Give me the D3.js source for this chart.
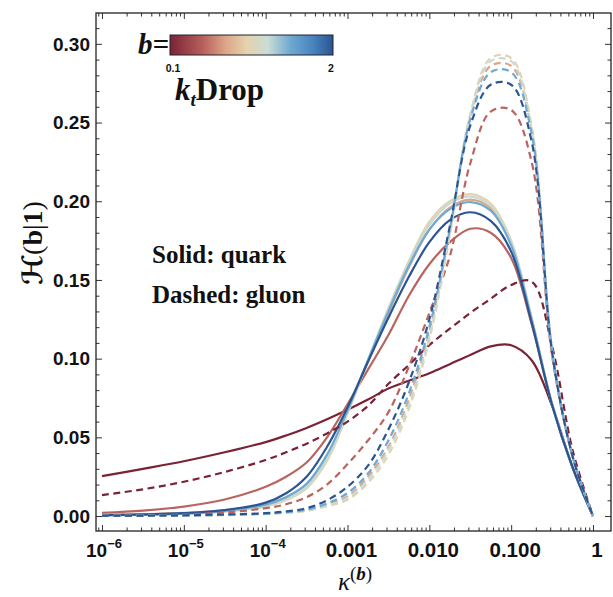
<!DOCTYPE html>
<html><head><meta charset="utf-8">
<script src="https://cdn.jsdelivr.net/npm/d3@7"></script>
<style>body{margin:0;background:#fff} svg{display:block}</style>
</head><body><svg id="c" width="613" height="597"></svg>
<script>
// ---------- DATA ----------
const log10Kappa = [-6,-5.5,-5,-4.5,-4,-3.75,-3.5,-3.25,-3,-2.75,-2.5,-2.25,-2,-1.75,-1.5,-1.25,-1,-0.75,-0.5,-0.25,0];
const bValues = [0.1, 0.5, 0.75, 1.0, 1.25, 1.5, 2.0];

// quark (solid)
const quark_b010 = [0.0254,0.0300,0.0348,0.0405,0.0470,0.0512,0.0560,0.0615,0.0675,0.0740,0.0810,0.0860,0.0907,0.0965,0.1023,0.1078,0.1085,0.0990,0.0700,0.0310,0];
const quark_b050 = [0.0020,0.0035,0.0060,0.0105,0.0186,0.0250,0.0340,0.0500,0.0710,0.0930,0.1150,0.1400,0.1600,0.1740,0.1825,0.1800,0.1640,0.1220,0.0710,0.0310,0];
const quark_b075 = [0.0008,0.0012,0.0020,0.0038,0.0075,0.0120,0.0200,0.0380,0.0670,0.0980,0.1290,0.1580,0.1820,0.1960,0.2010,0.1955,0.1730,0.1250,0.0710,0.0310,0];
const quark_b100 = [0.0005,0.0008,0.0014,0.0028,0.0060,0.0100,0.0175,0.0350,0.0650,0.0990,0.1320,0.1620,0.1870,0.2000,0.2045,0.1985,0.1750,0.1260,0.0710,0.0310,0];
const quark_b125 = [0.0005,0.0008,0.0015,0.0030,0.0065,0.0108,0.0185,0.0365,0.0660,0.0990,0.1310,0.1610,0.1850,0.1985,0.2030,0.1970,0.1740,0.1255,0.0710,0.0310,0];
const quark_b150 = [0.0005,0.0009,0.0016,0.0033,0.0072,0.0120,0.0205,0.0390,0.0670,0.0990,0.1300,0.1590,0.1820,0.1950,0.1995,0.1940,0.1720,0.1250,0.0710,0.0310,0];
const quark_b200 = [0.0006,0.0010,0.0018,0.0038,0.0085,0.0145,0.0250,0.0440,0.0690,0.0980,0.1260,0.1520,0.1740,0.1880,0.1930,0.1875,0.1680,0.1230,0.0705,0.0310,0];

// gluon (dashed)
const gluon_b010 = [0.0133,0.0170,0.0218,0.0280,0.0356,0.0405,0.0460,0.0525,0.0600,0.0700,0.0840,0.0960,0.1086,0.1190,0.1290,0.1380,0.1468,0.1490,0.1080,0.0420,0];
const gluon_b050 = [0.0002,0.0005,0.0010,0.0022,0.0050,0.0075,0.0120,0.0200,0.0330,0.0480,0.0660,0.0950,0.1290,0.1650,0.2240,0.2570,0.2580,0.2250,0.1020,0.0380,0];
const gluon_b075 = [0.0001,0.0002,0.0004,0.0008,0.0016,0.0025,0.0040,0.0075,0.0125,0.0250,0.0440,0.0740,0.1170,0.1810,0.2530,0.2860,0.2860,0.2450,0.1050,0.0380,0];
const gluon_b100 = [0.0001,0.0001,0.0003,0.0006,0.0013,0.0020,0.0033,0.0063,0.0104,0.0210,0.0390,0.0680,0.1120,0.1780,0.2550,0.2910,0.2910,0.2480,0.1060,0.0380,0];
const gluon_b125 = [0.0001,0.0002,0.0003,0.0007,0.0014,0.0022,0.0035,0.0068,0.0115,0.0230,0.0420,0.0710,0.1140,0.1800,0.2550,0.2890,0.2890,0.2460,0.1055,0.0380,0];
const gluon_b150 = [0.0001,0.0002,0.0003,0.0008,0.0016,0.0025,0.0040,0.0080,0.0146,0.0270,0.0480,0.0780,0.1200,0.1820,0.2520,0.2820,0.2820,0.2430,0.1050,0.0380,0];
const gluon_b200 = [0.0002,0.0003,0.0005,0.0010,0.0018,0.0030,0.0050,0.0100,0.0186,0.0320,0.0550,0.0850,0.1250,0.1840,0.2480,0.2740,0.2740,0.2380,0.1040,0.0380,0];

const quarkSeries = [quark_b010, quark_b050, quark_b075, quark_b100, quark_b125, quark_b150, quark_b200];
const gluonSeries = [gluon_b010, gluon_b050, gluon_b075, gluon_b100, gluon_b125, gluon_b150, gluon_b200];

const xMajorExp = [-6,-5,-4,-3,-2,-1,0];
const xTickLabels = ["10|−6","10|−5","10|−4","0.001","0.010","0.100","1"];
const yMajor = [0,0.05,0.10,0.15,0.20,0.25,0.30];
const yTickLabels = ["0.00","0.05","0.10","0.15","0.20","0.25","0.30"];
const bRange = [0.1, 2];

// colour map (RedBlueTones-like)
const cmapT = [0, 0.2, 0.34, 0.47, 0.6, 0.74, 0.87, 1];
const cmapC = ["#7a2335","#b6605c","#dca586","#e4d3ae","#c9ddd6","#6ea8d1","#4a86bf","#2b5592"];

// ---------- LAYOUT ----------
const L = 96, R = 611, T = 13, B = 531;
const svg = d3.select("#c");
const x = d3.scaleLog().domain([Math.pow(10,-6.0733), Math.pow(10,0.22)]).range([L,R]);
const y = d3.scaleLinear().domain([-0.0095, 0.3196]).range([B,T]);
const cmap = d3.scaleLinear().domain(cmapT).range(cmapC).interpolate(d3.interpolateRgb);
const colorOf = b => cmap((b - bRange[0])/(bRange[1]-bRange[0]));

const kappa = log10Kappa.map(e => Math.pow(10,e));

svg.append("defs").append("clipPath").attr("id","pc")
  .append("rect").attr("x",L).attr("y",T).attr("width",R-L).attr("height",B-T);

// ---------- CURVES ----------
const line = d3.line()
  .x((d,i) => x(kappa[i]))
  .y(d => y(d))
  .curve(d3.curveCatmullRom.alpha(0.5));

const g = svg.append("g").attr("clip-path","url(#pc)");
quarkSeries.forEach((s,i) => {
  g.append("path").attr("d", line(s)).attr("fill","none")
   .attr("stroke", colorOf(bValues[i])).attr("stroke-width",2.2);
});
gluonSeries.forEach((s,i) => {
  g.append("path").attr("d", line(s)).attr("fill","none")
   .attr("stroke", colorOf(bValues[i])).attr("stroke-width",2.2)
   .attr("stroke-dasharray","7,4.5");
});

// ---------- AXES / FRAME ----------
const axisColor = "#333";
const xMajor = xMajorExp.map(e => Math.pow(10,e));
const xMinor = [];
for (let e = -7; e <= 0; e++) for (let m = 2; m <= 9; m++) {
  const v = m*Math.pow(10,e);
  if (v >= x.domain()[0] && v <= x.domain()[1]) xMinor.push(v);
}
const yMinor = d3.range(0, 0.32, 0.01).map(v => +v.toFixed(2)).filter(v => !yMajor.some(m => Math.abs(m-v)<1e-9) && v <= y.domain()[1]);

function ax(axisFn, scale, vals, size, tr) {
  const a = axisFn(scale).tickValues(vals).tickSize(size).tickFormat("");
  const gg = svg.append("g").attr("transform", tr).call(a);
  gg.select(".domain").remove();
  gg.selectAll("line").attr("stroke", axisColor).attr("stroke-width",1);
}
ax(d3.axisBottom, x, xMajor, -6, `translate(0,${B})`);
ax(d3.axisBottom, x, xMinor, -3.5, `translate(0,${B})`);
ax(d3.axisTop, x, xMajor, -6, `translate(0,${T})`);
ax(d3.axisTop, x, xMinor, -3.5, `translate(0,${T})`);
ax(d3.axisLeft, y, yMajor, -6, `translate(${L},0)`);
ax(d3.axisLeft, y, yMinor, -3.5, `translate(${L},0)`);
ax(d3.axisRight, y, yMajor, -6, `translate(${R},0)`);
ax(d3.axisRight, y, yMinor, -3.5, `translate(${R},0)`);

svg.append("rect").attr("x",L).attr("y",T).attr("width",R-L).attr("height",B-T)
  .attr("fill","none").attr("stroke","#222").attr("stroke-width",1.3);

// tick labels
const tickFont = "'Liberation Sans', Arial, sans-serif";
xMajor.forEach((v,i) => {
  const lab = xTickLabels[i];
  const t = svg.append("text").attr("x", x(v) + (lab.includes("|") ? 2 : 4)).attr("y", 557)
    .attr("text-anchor","middle").attr("font-family",tickFont)
    .attr("font-weight","bold").attr("font-size",lab.includes("|") ? 19 : 20.5).attr("fill","#111");
  if (lab.includes("|")) {
    const [base, sup] = lab.split("|");
    t.append("tspan").text(base);
    t.append("tspan").attr("dy",-9).attr("font-size",13).text(sup);
  } else t.text(lab);
});
yMajor.forEach((v,i) => {
  svg.append("text").attr("x", 90).attr("y", y(v)).attr("dy","0.36em")
    .attr("text-anchor","end").attr("font-family",tickFont)
    .attr("font-weight","bold").attr("font-size",19).attr("fill","#111")
    .text(yTickLabels[i]);
});

// axis titles
const yt = svg.append("text").attr("transform","translate(42,243) rotate(-90)")
  .attr("text-anchor","middle").attr("font-size",28).attr("fill","#111")
  .attr("font-family","'Liberation Serif', 'DejaVu Serif', serif");
yt.append("tspan").attr("font-family","'DejaVu Serif', 'DejaVu Sans', serif").attr("font-style","italic").attr("font-weight","bold").text("ℋ");
yt.append("tspan").text("(");
yt.append("tspan").attr("font-weight","bold").text("b");
yt.append("tspan").text("|");
yt.append("tspan").attr("font-weight","bold").text("1");
yt.append("tspan").text(")");

const xt = svg.append("text").attr("x", 355).attr("y", 590).attr("text-anchor","middle")
  .attr("font-family","'Liberation Serif', serif").attr("fill","#111").attr("font-size",25);
xt.append("tspan").attr("font-style","italic").text("κ");
xt.append("tspan").attr("dy",-10).attr("font-size",19).text("(");
xt.append("tspan").attr("font-size",19).attr("font-weight","bold").attr("font-style","italic").text("b");
xt.append("tspan").attr("font-size",19).text(")");

// ---------- LEGEND ----------
const serif = "'Liberation Serif', 'Times New Roman', serif";
const grad = svg.select("defs").append("linearGradient").attr("id","cb")
  .attr("x1","0%").attr("x2","100%").attr("y1","0%").attr("y2","0%");
cmapT.forEach((t,i) => grad.append("stop").attr("offset", (t*100)+"%").attr("stop-color", cmapC[i]));
svg.append("rect").attr("x",170).attr("y",35).attr("width",163).attr("height",20)
  .attr("fill","url(#cb)").attr("stroke","#223").attr("stroke-width",1);
svg.append("text").attr("x",169).attr("y",54).attr("text-anchor","end")
  .attr("font-family",serif).attr("font-size",29).attr("font-weight","bold").attr("font-style","italic")
  .attr("fill","#111").text("b=");
svg.append("text").attr("x",173).attr("y",72).attr("text-anchor","middle")
  .attr("font-family",tickFont).attr("font-size",10.5).attr("font-weight","bold").attr("fill","#111").text(bRange[0]);
svg.append("text").attr("x",331).attr("y",72).attr("text-anchor","middle")
  .attr("font-family",tickFont).attr("font-size",10.5).attr("font-weight","bold").attr("fill","#111").text(bRange[1]);
const kt = svg.append("text").attr("x",175).attr("y",100)
  .attr("font-family",serif).attr("font-size",31).attr("font-weight","bold").attr("fill","#111");
kt.append("tspan").attr("font-style","italic").text("k");
kt.append("tspan").attr("font-style","italic").attr("font-size",19).attr("dy",6).text("t");
kt.append("tspan").attr("dy",-6).text("Drop");

svg.append("text").attr("x",152).attr("y",263).attr("font-family",serif)
  .attr("font-size",25).attr("font-weight","bold").attr("fill","#111").text("Solid: quark");
svg.append("text").attr("x",152).attr("y",303).attr("font-family",serif)
  .attr("font-size",25).attr("font-weight","bold").attr("fill","#111").text("Dashed: gluon");
</script></body></html>
